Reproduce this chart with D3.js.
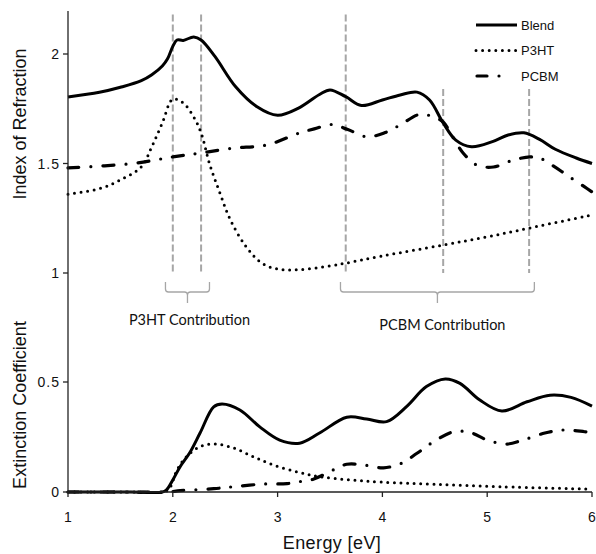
<!DOCTYPE html>
<html><head><meta charset="utf-8">
<script src="https://cdn.jsdelivr.net/npm/d3@7"></script>
<style>body{margin:0;background:#fff}svg{display:block}</style>
</head><body>
<svg id="c" width="596" height="554"></svg>
<script>
// ---- data ----
const xTicks = [1, 2, 3, 4, 5, 6];
const nTicks = [1, 1.5, 2];
const kTicks = [0, 0.5];
const seriesNames = ["Blend", "P3HT", "PCBM"];

const blendN = [[1,1.804],[1.3,1.825],[1.5,1.848],[1.7,1.878],[1.8,1.905],[1.9,1.945],[1.95,1.978],[2.0,2.035],[2.04,2.064],[2.1,2.062],[2.2,2.078],[2.27,2.064],[2.4,1.99],[2.6,1.85],[2.8,1.76],[3.0,1.72],[3.2,1.753],[3.4,1.815],[3.5,1.836],[3.65,1.805],[3.8,1.765],[4.0,1.79],[4.17,1.813],[4.33,1.826],[4.45,1.79],[4.58,1.685],[4.7,1.607],[4.85,1.577],[5.05,1.6],[5.2,1.63],[5.35,1.64],[5.5,1.61],[5.65,1.565],[5.85,1.525],[6.0,1.50]];
const p3htN = [[1,1.36],[1.3,1.385],[1.5,1.425],[1.7,1.485],[1.8,1.577],[1.9,1.685],[2.0,1.794],[2.1,1.776],[2.2,1.712],[2.27,1.64],[2.35,1.50],[2.45,1.365],[2.55,1.242],[2.7,1.12],[2.85,1.045],[3.0,1.018],[3.2,1.015],[3.5,1.032],[3.65,1.045],[4.0,1.078],[4.58,1.128],[5.0,1.165],[5.4,1.205],[6.0,1.265]];
const pcbmN = [[1,1.48],[1.62,1.50],[2.0,1.53],[2.27,1.548],[2.57,1.57],[2.9,1.585],[3.21,1.64],[3.35,1.658],[3.52,1.678],[3.67,1.655],[3.85,1.622],[4.02,1.64],[4.17,1.676],[4.36,1.725],[4.5,1.71],[4.58,1.69],[4.66,1.63],[4.77,1.548],[4.9,1.493],[5.06,1.484],[5.25,1.516],[5.41,1.53],[5.5,1.525],[5.63,1.489],[5.76,1.447],[5.93,1.393],[6.0,1.37]];

const blendK = [[1,0],[1.6,0],[1.9,0],[1.94,0.01],[2.0,0.055],[2.07,0.115],[2.16,0.177],[2.26,0.268],[2.39,0.387],[2.47,0.40],[2.64,0.373],[2.83,0.296],[3.02,0.236],[3.21,0.222],[3.4,0.268],[3.66,0.34],[3.85,0.332],[4.04,0.32],[4.23,0.388],[4.42,0.479],[4.6,0.514],[4.74,0.494],[4.93,0.418],[5.14,0.368],[5.38,0.41],[5.6,0.44],[5.8,0.43],[6.0,0.39]];
const p3htK = [[1,0],[1.6,0],[1.9,0],[1.96,0.01],[2.04,0.1],[2.13,0.16],[2.26,0.206],[2.4,0.218],[2.58,0.2],[2.77,0.16],[2.96,0.123],[3.2,0.09],[3.4,0.07],[3.69,0.055],[4.0,0.045],[4.49,0.035],[5.12,0.024],[6.0,0.013]];
const pcbmK = [[1,0],[1.6,0],[1.95,0],[2.07,0.006],[2.39,0.015],[2.58,0.024],[2.86,0.036],[3.09,0.038],[3.21,0.047],[3.34,0.058],[3.53,0.1],[3.66,0.126],[3.82,0.123],[4.01,0.11],[4.18,0.13],[4.33,0.176],[4.49,0.229],[4.68,0.274],[4.84,0.27],[5.0,0.236],[5.19,0.218],[5.34,0.236],[5.55,0.268],[5.73,0.282],[5.93,0.274],[6.0,0.27]];

// guide lines: energy, top value
const p3htGuides = [[2.0, 2.18], [2.27, 2.18]];
const pcbmGuides = [[3.65, 2.18], [4.58, 1.84], [5.40, 1.84]];
const guideBottom = 1.0;
const p3htBracket = [1.93, 2.35];
const pcbmBracket = [3.6, 5.45];

// ---- layout ----
const svg = d3.select("#c");
const x = d3.scaleLinear().domain([1, 6]).range([68, 592]);
const yN = d3.scaleLinear().domain([1, 2]).range([273, 54]);
const yK = d3.scaleLinear().domain([0, 0.5]).range([492, 382]);

const styles = {
  Blend: {w: 3, dash: null},
  P3HT: {w: 3, dash: "0 6.6"},
  PCBM: {w: 3.2, dash: "11 12 0 12"}
};

// guides
const gGuide = svg.append("g").attr("stroke", "#a6a6a6").attr("stroke-width", 2).attr("stroke-dasharray", "7 3");
[...p3htGuides, ...pcbmGuides].forEach(([e, top]) => {
  gGuide.append("line").attr("x1", x(e)).attr("x2", x(e)).attr("y1", yN(top)).attr("y2", yN(guideBottom));
});

// brackets
function bracket(e0, e1, label, ty) {
  const x0 = x(e0), x1 = x(e1), xm = (x0 + x1) / 2;
  const yt = 282, yh = 292, yb = 303, r = 3;
  const p = `M${x0},${yt} L${x0},${yh - r} Q${x0},${yh} ${x0 + r},${yh} L${xm - r},${yh} Q${xm},${yh} ${xm},${yh + r} L${xm},${yb}` +
    ` M${xm},${yh + r} Q${xm},${yh} ${xm + r},${yh} L${x1 - r},${yh} Q${x1},${yh} ${x1},${yh - r} L${x1},${yt}`;
  svg.append("path").attr("d", p).attr("fill", "none").attr("stroke", "#a6a6a6").attr("stroke-width", 1.3);
  svg.append("text").attr("x", xm + (label[1] === "C" ? 5 : 2)).attr("y", ty).attr("text-anchor", "middle")
    .attr("font-family", "Lato, 'Open Sans', sans-serif").attr("font-size", 14.5).attr("fill", "#111").text(label);
}
bracket(p3htBracket[0], p3htBracket[1], "P3HT Contribution", 325);
bracket(pcbmBracket[0], pcbmBracket[1], "PCBM Contribution", 330);

// curves
const lineN = d3.line().x(d => x(d[0])).y(d => yN(d[1])).curve(d3.curveCatmullRom.alpha(0.5));
const lineK = d3.line().x(d => x(d[0])).y(d => yK(Math.max(0, d[1]))).curve(d3.curveCatmullRom.alpha(0.5));

function draw(data, gen, name) {
  const s = styles[name];
  svg.append("path").datum(data).attr("d", gen).attr("fill", "none").attr("stroke", "#000")
    .attr("stroke-width", s.w).attr("stroke-linecap", s.dash ? "round" : "butt").attr("stroke-linejoin", "round")
    .attr("stroke-dasharray", s.dash);
}
draw(p3htN, lineN, "P3HT"); draw(pcbmN, lineN, "PCBM"); draw(blendN, lineN, "Blend");
draw(p3htK, lineK, "P3HT"); draw(pcbmK, lineK, "PCBM"); draw(blendK, lineK, "Blend");

// axes
const font = "'Liberation Sans', Arial, sans-serif";
const ax = svg.append("g").attr("stroke", "#222").attr("stroke-width", 1.3);
ax.append("line").attr("x1", 68).attr("x2", 68).attr("y1", 11).attr("y2", 492);
ax.append("line").attr("x1", 68).attr("x2", 592).attr("y1", 492).attr("y2", 492);
nTicks.forEach(t => ax.append("line").attr("x1", 63).attr("x2", 68).attr("y1", yN(t)).attr("y2", yN(t)));
kTicks.forEach(t => ax.append("line").attr("x1", 63).attr("x2", 68).attr("y1", yK(t)).attr("y2", yK(t)));
xTicks.forEach(t => ax.append("line").attr("x1", x(t)).attr("x2", x(t)).attr("y1", 492).attr("y2", 497));

const fmt = d3.format("~g");
const tl = svg.append("g").attr("font-family", font).attr("font-size", 14).attr("fill", "#111");
nTicks.forEach(t => tl.append("text").attr("x", 60).attr("y", yN(t) + 5).attr("text-anchor", "end").attr("letter-spacing", 1).text(fmt(t)));
kTicks.forEach(t => tl.append("text").attr("x", 60).attr("y", yK(t) + 5).attr("text-anchor", "end").attr("letter-spacing", 1).text(fmt(t)));
xTicks.forEach(t => tl.append("text").attr("x", x(t)).attr("y", 522).attr("text-anchor", "middle").text(fmt(t)));

svg.append("text").attr("transform", "translate(26,124) rotate(-90)").attr("text-anchor", "middle")
  .attr("font-family", font).attr("font-size", 18).attr("fill", "#111").text("Index of Refraction");
svg.append("text").attr("transform", "translate(26,405) rotate(-90)").attr("text-anchor", "middle")
  .attr("font-family", font).attr("font-size", 18).attr("fill", "#111").text("Extinction Coefficient");
svg.append("text").attr("x", 332).attr("y", 549).attr("text-anchor", "middle")
  .attr("font-family", font).attr("font-size", 18).attr("letter-spacing", 0.4).attr("fill", "#111").text("Energy [eV]");

// legend
const lg = svg.append("g");
seriesNames.forEach((name, i) => {
  const yy = 25 + i * 25.5;
  const s = styles[name];
  lg.append("line").attr("x1", name === "PCBM" ? 477 : 476).attr("x2", 517).attr("y1", yy).attr("y2", yy)
    .attr("stroke", "#000").attr("stroke-width", s.w).attr("stroke-linecap", s.dash ? "round" : "butt")
    .attr("stroke-dasharray", name === "PCBM" ? "10 12 0 30" : (name === "P3HT" ? "0 6.6" : null));
  lg.append("text").attr("x", 521).attr("y", yy + 4.5).attr("font-family", font).attr("font-size", 13)
    .attr("fill", "#111").text(name);
});
</script>
</body></html>
